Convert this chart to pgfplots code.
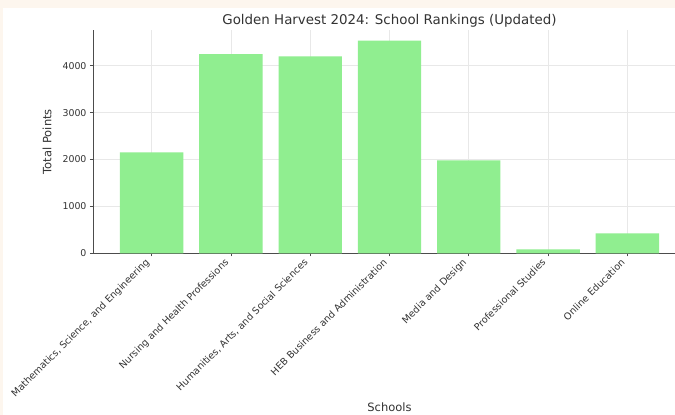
\documentclass[border=0pt]{standalone}
\usepackage{pgfplots}
\pgfplotsset{compat=1.18}
\usepackage{fontspec}
\setmainfont{DejaVu Sans}
\definecolor{barg}{HTML}{90EE90}
\definecolor{cream}{HTML}{FDF6EE}
\definecolor{txt}{HTML}{333333}
\begin{document}
\begin{tikzpicture}[x=1pt,y=1pt]
\fill[cream] (0,0) rectangle (675,415);
\fill[white] (3,0) rectangle (675,407);
\begin{axis}[
    at={(93pt,161.7pt)}, anchor=south west,
    scale only axis, width=593pt, height=223.3pt,
    ybar, bar width=0.8, bar shift=0pt,
    xmin=-0.74, xmax=6.74, ymin=0, ymax=4763,
    axis x line*=bottom, axis y line*=left,
    axis line style={black!70, line width=0.8pt},
    xtick={0,...,6},
    xticklabels={{Mathematics, Science, and Engineering},{Nursing and Health Professions},{Humanities, Arts, and Social Sciences},{HEB Business and Administration},{Media and Design},{Professional Studies},{Online Education}},
    ytick={0,1000,2000,3000,4000},
    tick align=outside, major tick length=3pt,
    tick style={black!70, line width=0.6pt},
    xmajorgrids, ymajorgrids,
    grid style={black!9, line width=0.6pt},
    /pgf/number format/assume math mode=true,
    /pgf/number format/1000 sep={},
    yticklabel style={font=\fontsize{9.4}{11}\selectfont, text=txt},
    xticklabel style={font=\fontsize{9.6}{11}\selectfont, text=txt, xshift=-7pt, rotate=45, anchor=north east, inner sep=1pt},
    title={Golden Harvest 2024: School Rankings (Updated)},
    title style={font=\fontsize{13.4}{15}\selectfont, text=txt, at={(axis description cs:0.5,1)}, anchor=center, yshift=3pt},
    xlabel={Schools},
    xlabel style={font=\fontsize{11.5}{13}\selectfont, text=txt, at={(axis description cs:0.5,-0.69)}, anchor=center},
    ylabel={Total Points},
    ylabel style={font=\fontsize{11.5}{13}\selectfont, text=txt, at={(axis description cs:-0.0776,0.5)}, anchor=center},
]
\addplot[fill=barg, draw=none] coordinates {
    (0,2150) (1,4250) (2,4200) (3,4535) (4,1980) (5,85) (6,425)};
\end{axis}
\pgfresetboundingbox
\path (0,0) rectangle (675,415);
\end{tikzpicture}
\end{document}
